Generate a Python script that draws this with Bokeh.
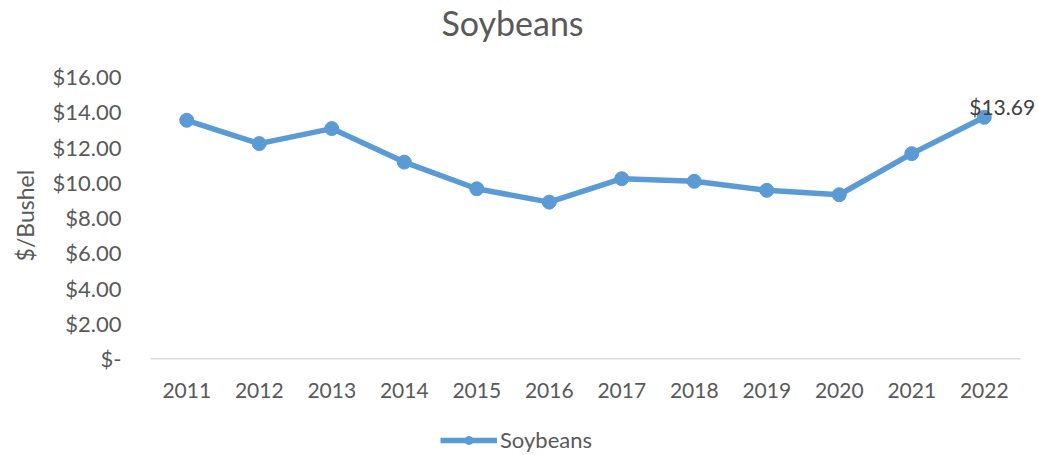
import math
from bokeh.plotting import figure
from bokeh.models import Range1d, Label, Legend, LegendItem, CustomJSTickFormatter
from bokeh.embed import file_html
from bokeh.resources import INLINE

years = ["2011", "2012", "2013", "2014", "2015", "2016",
         "2017", "2018", "2019", "2020", "2021", "2022"]
prices = [13.52, 12.20, 13.05, 11.15, 9.64, 8.88, 10.21, 10.06, 9.55, 9.30, 11.63, 13.69]
y_ticks = [0, 2, 4, 6, 8, 10, 12, 14, 16]
series_name = "Soybeans"
chart_title = "Soybeans"
y_label = "$/Bushel"
last_label = "$13.69"

FONT = "Lato"
BLUE = "#5B9BD5"
GREY = "#595959"

W, H = 1038, 455
PX_X = 72.5      # pixels per category
PX_Y = 17.64     # pixels per dollar
LEFT, BASE = 150, 358.3  # plot-area left edge and baseline (screen px)

xs = list(range(len(years)))
n = len(years)

p = figure(width=W, height=H,
           x_range=Range1d(-0.5 - LEFT / PX_X, -0.5 + (W - LEFT) / PX_X),
           y_range=Range1d(-(H - BASE) / PX_Y, BASE / PX_Y),
           output_backend="svg", toolbar_location=None,
           min_border=0)
p.outline_line_color = None
p.xgrid.grid_line_color = None
p.ygrid.grid_line_color = None
p.background_fill_color = "white"
p.border_fill_color = "white"

# category axis baseline (spans the category band only)
p.segment(x0=[-0.5], y0=[0], x1=[n - 0.5], y1=[0], line_color="#D9D9D9", line_width=1.5)

line = p.line(xs, prices, line_color=BLUE, line_width=5.5)
pts = p.scatter(xs, prices, size=14, fill_color=BLUE, line_color=BLUE)

# axes
p.yaxis.fixed_location = -0.5
p.yaxis.ticker = y_ticks
p.yaxis.formatter = CustomJSTickFormatter(code="return tick == 0 ? '$-' : '$' + tick.toFixed(2);")
p.yaxis.axis_line_color = None
p.yaxis.major_tick_line_color = None
p.yaxis.minor_tick_line_color = None
p.yaxis.major_label_standoff = 23
p.yaxis.major_label_text_font = FONT
p.yaxis.major_label_text_font_size = "22px"
p.yaxis.major_label_text_color = GREY

p.xaxis.fixed_location = 0
p.xaxis.ticker = xs
p.xaxis.major_label_overrides = {i: y for i, y in zip(xs, years)}
p.xaxis.axis_line_color = None
p.xaxis.major_tick_line_color = None
p.xaxis.minor_tick_line_color = None
p.xaxis.major_label_standoff = 18
p.xaxis.major_label_text_font = FONT
p.xaxis.major_label_text_font_size = "21px"
p.xaxis.major_label_text_color = GREY

# y axis title
p.add_layout(Label(x=-0.5, y=8, x_offset=-126, y_offset=2, text=y_label, angle=math.pi / 2,
                   text_font=FONT, text_font_size="23px", text_color=GREY,
                   text_align="center", text_baseline="middle"))

# chart title
p.add_layout(Label(x=-0.5, y=16, x_offset=362, y_offset=54, text=chart_title,
                   text_font=FONT, text_font_size="34px", text_color=GREY,
                   text_align="center", text_baseline="middle"))

# data label
p.add_layout(Label(x=xs[-1], y=prices[-1], x_offset=-15, y_offset=11, text=last_label,
                   text_font=FONT, text_font_size="21px", text_color="#404040",
                   text_align="left", text_baseline="middle"))

legend = Legend(items=[LegendItem(label=series_name, renderers=[line, pts])],
                location=(440, 2), orientation="horizontal",
                glyph_width=57, glyph_height=20, label_standoff=3,
                padding=0, margin=0, spacing=0,
                border_line_color=None, background_fill_alpha=0,
                label_text_font=FONT, label_text_font_size="22px", label_text_color=GREY)
p.add_layout(legend, "center")

open("out.html", "w").write(file_html(p, INLINE))
